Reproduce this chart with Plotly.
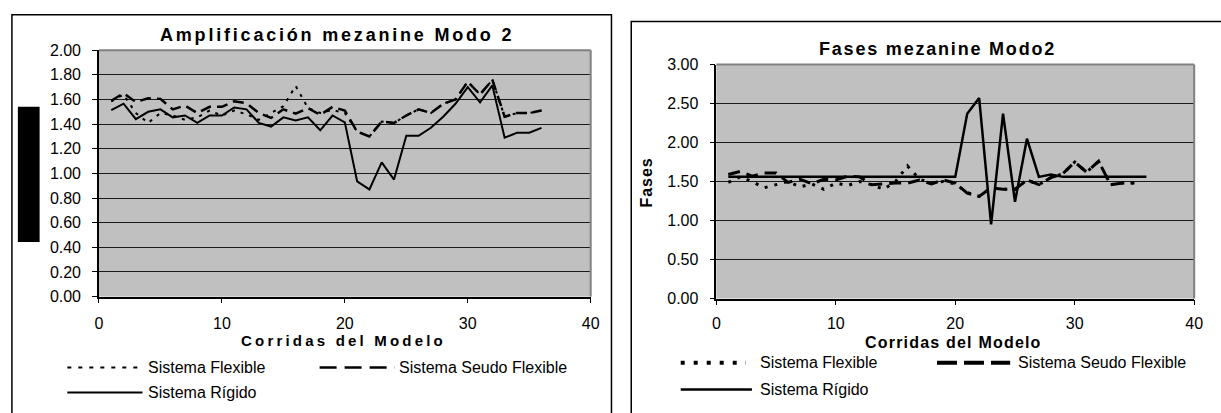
import plotly.graph_objects as go

W, H = 1221, 413

# ---- data -------------------------------------------------------------
corridas = list(range(1, 37))
corridas_35 = list(range(1, 36))

amp_flexible = [1.585, 1.64, 1.49, 1.41, 1.49, 1.47, 1.435, 1.455, 1.51, 1.47,
                1.51, 1.48, 1.435, 1.49, 1.545, 1.71, 1.53, 1.49, 1.515, 1.49,
                1.34, 1.30, 1.42, 1.41, 1.47, 1.52, 1.49, 1.565, 1.60, 1.745,
                1.64, 1.76, 1.46, 1.49, 1.49, 1.51]
amp_seudo = [1.59, 1.65, 1.58, 1.61, 1.605, 1.52, 1.55, 1.49, 1.54, 1.54,
             1.585, 1.57, 1.49, 1.45, 1.52, 1.485, 1.53, 1.475, 1.54, 1.51,
             1.34, 1.30, 1.42, 1.41, 1.47, 1.52, 1.49, 1.565, 1.60, 1.745,
             1.64, 1.76, 1.46, 1.49, 1.49, 1.51]
amp_rigido = [1.514, 1.566, 1.44, 1.50, 1.52, 1.455, 1.47, 1.41, 1.47, 1.47,
              1.535, 1.52, 1.41, 1.38, 1.455, 1.43, 1.455, 1.35, 1.47, 1.414,
              0.936, 0.87, 1.09, 0.95, 1.305, 1.305, 1.37, 1.46, 1.565, 1.70,
              1.577, 1.714, 1.29, 1.33, 1.33, 1.37]

fase_flexible = [1.49, 1.56, 1.50, 1.42, 1.46, 1.50, 1.43, 1.47, 1.40, 1.48,
                 1.45, 1.50, 1.46, 1.40, 1.50, 1.70, 1.53, 1.48, 1.50, 1.47,
                 1.36, 1.31, 1.42, 1.40, 1.40, 1.52, 1.46, 1.55, 1.60, 1.75,
                 1.62, 1.76, 1.46, 1.48, 1.48]
fase_seudo = [1.59, 1.63, 1.57, 1.61, 1.61, 1.49, 1.53, 1.47, 1.53, 1.52,
              1.57, 1.56, 1.46, 1.47, 1.48, 1.48, 1.52, 1.47, 1.52, 1.48,
              1.35, 1.31, 1.42, 1.40, 1.40, 1.52, 1.46, 1.55, 1.60, 1.75,
              1.62, 1.76, 1.46, 1.48, 1.48]
fase_rigido = [1.56, 1.56, 1.56, 1.56, 1.56, 1.56, 1.56, 1.56, 1.56, 1.56,
               1.56, 1.56, 1.56, 1.56, 1.56, 1.56, 1.56, 1.56, 1.56, 1.56,
               2.37, 2.57, 0.95, 2.37, 1.24, 2.05, 1.56, 1.59, 1.56, 1.56,
               1.56, 1.56, 1.56, 1.56, 1.56, 1.56]

amp_ticks = [0.0, 0.2, 0.4, 0.6, 0.8, 1.0, 1.2, 1.4, 1.6, 1.8, 2.0]
fase_ticks = [0.0, 0.5, 1.0, 1.5, 2.0, 2.5, 3.0]
x_ticks = [0, 10, 20, 30, 40]

series_names = ["Sistema Flexible", "Sistema Seudo Flexible", "Sistema Rígido"]

# ---- helpers ------------------------------------------------------------
def px(x):
    return x / W


def py(y):
    return 1 - y / H


FONT = "Liberation Sans, Arial, sans-serif"
GRID = "#1a1a1a"
PLOT_BG = "#c0c0c0"

fig = go.Figure()

# left chart: amplification
fig.add_trace(go.Scatter(x=corridas, y=amp_rigido, mode="lines", xaxis="x", yaxis="y",
                         line=dict(color="black", width=2), name=series_names[2]))
fig.add_trace(go.Scatter(x=corridas, y=amp_seudo, mode="lines", xaxis="x", yaxis="y",
                         line=dict(color="black", width=2.5, dash="11px,6px"), name=series_names[1]))
fig.add_trace(go.Scatter(x=corridas, y=amp_flexible, mode="lines", xaxis="x", yaxis="y",
                         line=dict(color="black", width=2, dash="3px,6px"), name=series_names[0]))

# right chart: phases
fig.add_trace(go.Scatter(x=corridas, y=fase_rigido, mode="lines", xaxis="x2", yaxis="y2",
                         line=dict(color="black", width=2.5), name=series_names[2]))
fig.add_trace(go.Scatter(x=corridas_35, y=fase_seudo, mode="lines", xaxis="x2", yaxis="y2",
                         line=dict(color="black", width=3, dash="12px,7px"), name=series_names[1]))
fig.add_trace(go.Scatter(x=corridas_35, y=fase_flexible, mode="lines", xaxis="x2", yaxis="y2",
                         line=dict(color="black", width=3, dash="3px,7px"), name=series_names[0]))

# plot areas (pixel boxes: left, top, right, bottom)
L_BOX = (96, 44, 593, 301)
R_BOX = (720, 59, 1203, 303)

axis_common = dict(
    showline=True, linecolor="black", linewidth=1.5,
    ticks="outside", ticklen=5, tickcolor="black", tickwidth=1,
    tickfont=dict(family=FONT, size=16, color="black"),
    zeroline=False, fixedrange=True,
)

fig.update_layout(
    width=W, height=H,
    margin=dict(l=0, r=0, t=0, b=0),
    paper_bgcolor="white", plot_bgcolor=PLOT_BG,
    showlegend=False,
    xaxis=dict(domain=[px(L_BOX[0]), px(L_BOX[2])], range=[0, 40], tickvals=x_ticks,
               showgrid=False, anchor="y", ticklabelstandoff=6, **axis_common),
    yaxis=dict(domain=[py(L_BOX[3]), py(L_BOX[1])], range=[0, 2.0], tickvals=amp_ticks,
               tickformat=".2f", showgrid=True, gridcolor=GRID, gridwidth=1,
               anchor="x", ticklabelstandoff=8, **axis_common),
    xaxis2=dict(domain=[px(R_BOX[0]), px(R_BOX[2])], range=[0, 40], tickvals=x_ticks,
                showgrid=False, anchor="y2", ticklabelstandoff=5, **axis_common),
    yaxis2=dict(domain=[py(R_BOX[3]), py(R_BOX[1])], range=[0, 3.0], tickvals=fase_ticks,
                tickformat=".2f", showgrid=True, gridcolor=GRID, gridwidth=1,
                anchor="x2", ticklabelstandoff=8, **axis_common),
)

shapes = []
# gray frame on the top and right sides of each plot area
for (l, t, r, b) in (L_BOX, R_BOX):
    shapes.append(dict(type="line", xref="paper", yref="paper", x0=px(l), x1=px(r),
                       y0=py(t), y1=py(t), line=dict(color="#808080", width=2)))
    shapes.append(dict(type="line", xref="paper", yref="paper", x0=px(r), x1=px(r),
                       y0=py(t), y1=py(b), line=dict(color="#808080", width=2)))

# chart outer frames
shapes.append(dict(type="rect", xref="paper", yref="paper", x0=px(8), x1=px(614),
                   y0=py(430), y1=py(7), line=dict(color="black", width=1.5),
                   fillcolor="rgba(0,0,0,0)", layer="below"))
shapes.append(dict(type="rect", xref="paper", yref="paper", x0=px(634), x1=px(1240),
                   y0=py(430), y1=py(14), line=dict(color="black", width=1.5),
                   fillcolor="rgba(0,0,0,0)", layer="below"))

# block over the left y-axis title
shapes.append(dict(type="rect", xref="paper", yref="paper", x0=px(14), x1=px(36),
                   y0=py(244), y1=py(103), line=dict(width=0), fillcolor="black"))

annotations = []


def label(text, x, y, size, bold=False, spacing=0, xanchor="center", angle=0):
    if spacing:
        text = f'<span style="letter-spacing:{spacing}px">{text}</span>'
    if bold:
        text = f"<b>{text}</b>"
    annotations.append(dict(text=text, x=px(x), y=py(y), xref="paper", yref="paper",
                            xanchor=xanchor, yanchor="middle", showarrow=False,
                            textangle=angle,
                            font=dict(family=FONT, size=size, color="black")))


label("Amplificación mezanine Modo 2", 337, 28, 18, bold=True, spacing=2.8)
label("Corridas del Modelo", 343, 347, 15, bold=True, spacing=3.2)
label("Fases mezanine Modo2", 944, 43, 18, bold=True, spacing=1.8)
label("Corridas del Modelo", 960, 349, 16, bold=True, spacing=1.2)
label("Fases", 649, 182, 16, bold=True, spacing=1, angle=-90)

# legends drawn beneath each chart
def legend_line(x0, x1, y, dash, width):
    shapes.append(dict(type="line", xref="paper", yref="paper", x0=px(x0), x1=px(x1),
                       y0=py(y), y1=py(y), line=dict(color="black", width=width, dash=dash)))


legend_line(64, 136, 375, "4px,7px", 2)
label(series_names[0], 144, 375, 16, xanchor="left")
legend_line(319, 395, 375, "17px,8px", 2.5)
label(series_names[1], 397, 375, 16, xanchor="left")
legend_line(64, 140, 401, "solid", 2)
label(series_names[2], 144, 401, 16, xanchor="left")

legend_line(684, 750, 370, "4px,9px", 4)
label(series_names[0], 762, 370, 16, xanchor="left")
legend_line(943, 1017, 370, "20px,7px", 4)
label(series_names[1], 1023, 370, 16, xanchor="left")
legend_line(684, 756, 398, "solid", 2.5)
label(series_names[2], 762, 398, 16, xanchor="left")

fig.update_layout(shapes=shapes, annotations=annotations)

fig.write_html("out.html")
